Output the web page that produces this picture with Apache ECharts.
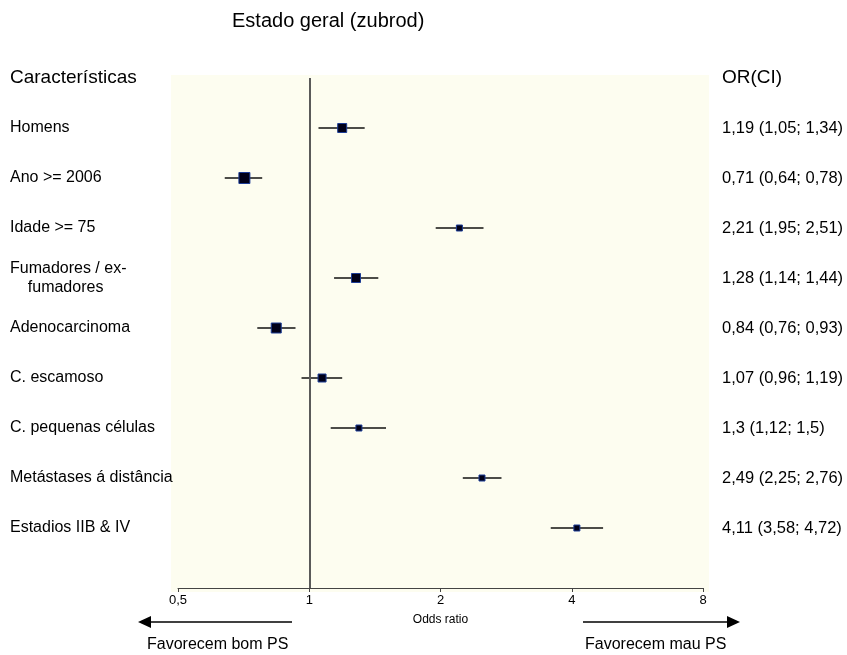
<!DOCTYPE html>
<html>
<head>
<meta charset="UTF-8">
<title>Estado geral (zubrod)</title>
<script src="https://cdn.jsdelivr.net/npm/echarts@6/dist/echarts.min.js"></script>
</head>
<body style="margin:0">
<div id="main" style="width:847px;height:655px"></div>
<script type="text/javascript">
// dados
var categorias = ['Homens', 'Ano >= 2006', 'Idade >= 75', 'Fumadores / ex-\n    fumadores',
    'Adenocarcinoma', 'C. escamoso', 'C. pequenas células', 'Metástases á distância', 'Estadios IIB & IV'];
var oddsRatio = [1.19, 0.71, 2.21, 1.28, 0.84, 1.07, 1.3, 2.49, 4.11];
var icInf = [1.05, 0.64, 1.95, 1.14, 0.76, 0.96, 1.12, 2.25, 3.58];
var icSup = [1.34, 0.78, 2.51, 1.44, 0.93, 1.19, 1.5, 2.76, 4.72];
var textoOR = ['1,19 (1,05; 1,34)', '0,71 (0,64; 0,78)', '2,21 (1,95; 2,51)', '1,28 (1,14; 1,44)',
    '0,84 (0,76; 0,93)', '1,07 (0,96; 1,19)', '1,3 (1,12; 1,5)', '2,49 (2,25; 2,76)', '4,11 (3,58; 4,72)'];
var pesos = [9, 11, 6, 9, 10, 8, 6, 6, 6];  // tamanho do quadrado
var ticksX = [0.5, 1, 2, 4, 8];

var fonte = 'Liberation Sans, Arial, sans-serif';
var myChart = echarts.init(document.getElementById('main'));

var pontos = [], linhas = [];
for (var i = 0; i < categorias.length; i++) {
    pontos.push([oddsRatio[i], i + 1, pesos[i]]);
    linhas.push([icInf[i], icSup[i], i + 1]);
}

function rotuloEsq(v) {
    if (v === 0) return '{h|Características}';
    if (v >= 1 && v <= categorias.length && v % 1 === 0) return categorias[v - 1];
    return '';
}
function rotuloDir(v) {
    if (v === 0) return '{h|OR(CI)}';
    if (v >= 1 && v <= textoOR.length && v % 1 === 0) return textoOR[v - 1];
    return '';
}

myChart.setOption({
    animation: false,
    backgroundColor: '#ffffff',
    textStyle: {fontFamily: fonte},
    title: {
        text: 'Estado geral (zubrod)',
        left: 227, top: 6,
        textStyle: {fontSize: 20, fontWeight: 'normal', color: '#000', fontFamily: fonte}
    },
    grid: [
        // fundo amarelo
        {left: 171, right: 138, top: 75, bottom: 63, show: true, backgroundColor: '#fdfdf0', borderWidth: 0},
        {left: 178, right: 144, top: 78, bottom: 67, containLabel: false}
    ],
    xAxis: [
        {gridIndex: 0, type: 'value', show: false},
        {
            gridIndex: 1, type: 'log', logBase: 2, min: ticksX[0], max: ticksX[ticksX.length - 1],
            position: 'bottom',
            name: 'Odds ratio', nameLocation: 'middle', nameGap: 26,
            nameTextStyle: {fontSize: 12, color: '#000', fontFamily: fonte},
            axisLine: {onZero: false, lineStyle: {color: '#444', width: 1}},
            axisTick: {length: 4, lineStyle: {color: '#444'}},
            axisLabel: {
                margin: 6, fontSize: 13, color: '#000',
                formatter: function (v) { return String(+v.toFixed(2)).replace('.', ','); }
            },
            splitLine: {show: false}
        }
    ],
    yAxis: [
        {gridIndex: 0, type: 'value', show: false},
        {
            gridIndex: 1, type: 'value', min: 0, max: 10.2, interval: 1, inverse: true,
            axisLine: {show: false}, axisTick: {show: false}, splitLine: {show: false},
            axisLabel: {
                align: 'left', margin: 168, fontSize: 16, color: '#000', lineHeight: 19,
                formatter: rotuloEsq,
                rich: {h: {fontSize: 19, color: '#000'}}
            }
        },
        {
            gridIndex: 1, type: 'value', position: 'right', min: 0, max: 10.2, interval: 1, inverse: true,
            axisLine: {show: false}, axisTick: {show: false}, splitLine: {show: false},
            axisLabel: {
                align: 'left', margin: 19, fontSize: 16.5, color: '#000',
                formatter: rotuloDir,
                rich: {h: {fontSize: 19, color: '#000'}}
            }
        }
    ],
    series: [
        {
            // intervalos de confiança
            type: 'custom', xAxisIndex: 1, yAxisIndex: 1,
            data: linhas,
            renderItem: function (params, api) {
                var a = api.coord([api.value(0), api.value(2)]);
                var b = api.coord([api.value(1), api.value(2)]);
                return {
                    type: 'line',
                    shape: {x1: a[0], y1: a[1], x2: b[0], y2: b[1]},
                    style: {stroke: '#111', lineWidth: 1.6}
                };
            },
            markLine: {
                silent: true, symbol: 'none', label: {show: false},
                lineStyle: {color: '#5a5a5a', width: 2, type: 'solid'},
                data: [{xAxis: 1}]
            },
            z: 2
        },
        {
            type: 'scatter', xAxisIndex: 1, yAxisIndex: 1,
            symbol: 'rect',
            symbolSize: function (d) { return d[2]; },
            data: pontos,
            itemStyle: {color: '#000018', borderColor: '#1c3c96', borderWidth: 1, opacity: 1},
            z: 3
        }
    ],
    graphic: [
        {type: 'line', shape: {x1: 292, y1: 622, x2: 150, y2: 622}, style: {stroke: '#000', lineWidth: 1.5}},
        {type: 'polygon', shape: {points: [[138, 622], [151, 616], [151, 628]]}, style: {fill: '#000'}},
        {type: 'line', shape: {x1: 583, y1: 622, x2: 727, y2: 622}, style: {stroke: '#000', lineWidth: 1.5}},
        {type: 'polygon', shape: {points: [[740, 622], [727, 616], [727, 628]]}, style: {fill: '#000'}},
        {type: 'text', left: 147, top: 637, style: {text: 'Favorecem bom PS', fill: '#000', font: '16px ' + fonte}},
        {type: 'text', left: 585, top: 637, style: {text: 'Favorecem mau PS', fill: '#000', font: '16px ' + fonte}}
    ]
});
</script>
</body>
</html>
